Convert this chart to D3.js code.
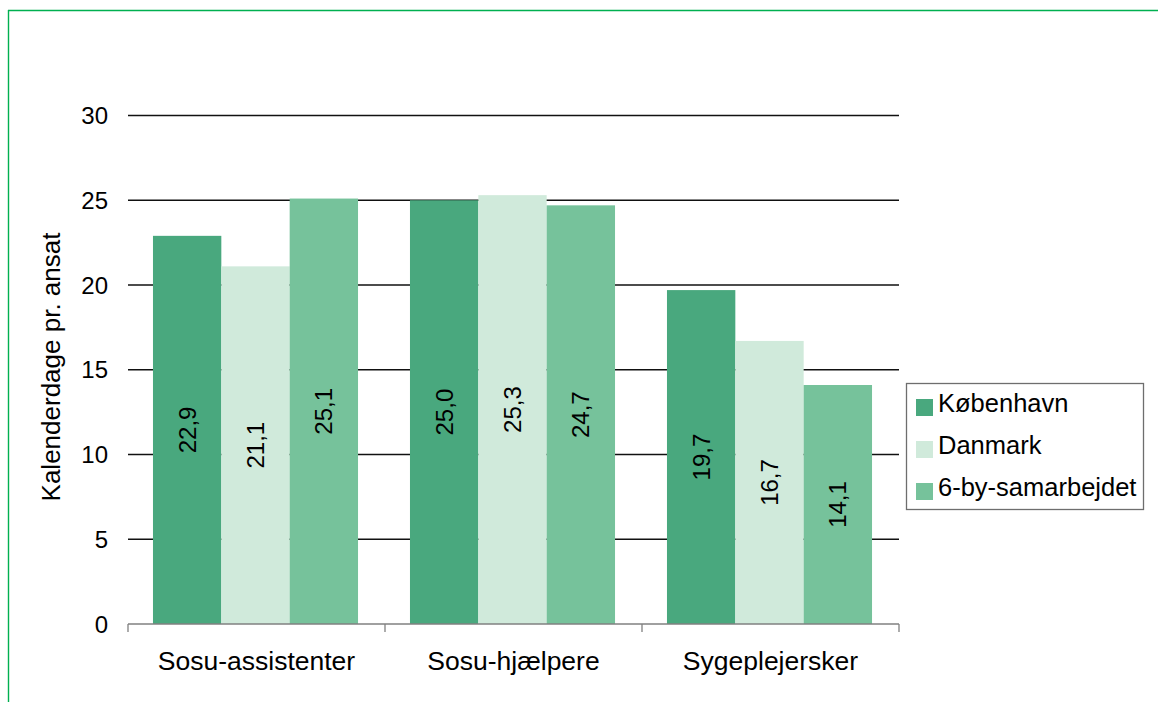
<!DOCTYPE html>
<html><head><meta charset="utf-8">
<script src="https://cdn.jsdelivr.net/npm/d3@7"></script>
<style>
html,body{margin:0;padding:0;background:#fff;}
svg{display:block;font-family:"Liberation Sans",Arial,sans-serif;}
</style></head>
<body>
<svg id="chart" width="1158" height="702"></svg>
<script>
const categories = ["Sosu-assistenter", "Sosu-hjælpere", "Sygeplejersker"];
const seriesNames = ["København", "Danmark", "6-by-samarbejdet"];
const kobenhavn = [22.9, 25.0, 19.7];
const danmark = [21.1, 25.3, 16.7];
const seksBy = [25.1, 24.7, 14.1];
const yTicks = [0, 5, 10, 15, 20, 25, 30];
const colors = ["#49a87e", "#d0eadb", "#76c29b"];
const yTitle = "Kalenderdage pr. ansat";

(function() {
const seriesValues = [kobenhavn, danmark, seksBy];
const svg = d3.select("#chart");

// frame border
svg.append("line").attr("x1", 8).attr("x2", 1158).attr("y1", 10.5).attr("y2", 10.5)
  .attr("stroke", "#00b050").attr("stroke-width", 1.4);
svg.append("line").attr("x1", 8.5).attr("x2", 8.5).attr("y1", 10).attr("y2", 702)
  .attr("stroke", "#00b050").attr("stroke-width", 1.4);

const pLeft = 128, pRight = 899, pTop = 115.5, pBottom = 624;
const y = d3.scaleLinear().domain([0, 30]).range([pBottom, pTop]);
const x0 = d3.scaleBand().domain(categories).range([pLeft, pRight]).padding(0);
const x1 = d3.scaleBand().domain(seriesNames).range([-1, x0.bandwidth() - 1]).paddingInner(0).paddingOuter(0.38);

const fmt = d3.formatLocale({decimal: ",", thousands: ".", grouping: [3], currency: ["", " kr"]}).format(".1f");

// gridlines
svg.append("g").selectAll("line").data(yTicks.filter(d => d > 0)).join("line")
  .attr("x1", pLeft).attr("x2", pRight)
  .attr("y1", d => y(d)).attr("y2", d => y(d))
  .attr("stroke", "#111").attr("stroke-width", 1.3);

// y tick labels
svg.append("g").selectAll("text").data(yTicks).join("text")
  .attr("x", 108).attr("y", d => y(d)).attr("dy", "0.36em")
  .attr("text-anchor", "end").attr("font-size", 24).attr("fill", "#000")
  .text(d => d);

// bars
const groups = svg.append("g").selectAll("g").data(categories).join("g")
  .attr("transform", d => `translate(${x0(d)},0)`);

groups.each(function(cat, ci) {
  const g = d3.select(this);
  seriesNames.forEach((s, si) => {
    const v = seriesValues[si][ci];
    g.append("rect")
      .attr("x", x1(s)).attr("width", x1.bandwidth())
      .attr("y", y(v)).attr("height", y(0) - y(v))
      .attr("fill", colors[si]);
    const cx = x1(s) + x1.bandwidth() / 2;
    const cy = (y(v) + y(0)) / 2;
    g.append("text")
      .attr("transform", `translate(${cx},${cy}) rotate(-90)`)
      .attr("text-anchor", "middle").attr("dy", "0.36em")
      .attr("font-size", 24).attr("fill", "#000")
      .text(fmt(v));
  });
});

// x axis
const xa = svg.append("g");
xa.append("line").attr("x1", pLeft).attr("x2", pRight).attr("y1", pBottom).attr("y2", pBottom)
  .attr("stroke", "#808080").attr("stroke-width", 1.3);
const tickXs = categories.map(c => x0(c)).concat([pRight]);
xa.selectAll("line.t").data(tickXs).join("line").attr("class", "t")
  .attr("x1", d => d).attr("x2", d => d).attr("y1", pBottom).attr("y2", pBottom + 8)
  .attr("stroke", "#808080").attr("stroke-width", 1.3);
xa.selectAll("text").data(categories).join("text")
  .attr("x", d => x0(d) + x0.bandwidth() / 2).attr("y", 670)
  .attr("text-anchor", "middle").attr("font-size", 26.5).attr("fill", "#000")
  .text(d => d);

// y title
svg.append("text")
  .attr("transform", `translate(60,367) rotate(-90)`)
  .attr("text-anchor", "middle").attr("font-size", 26).attr("fill", "#000")
  .text(yTitle);

// legend
const lg = svg.append("g");
lg.append("rect").attr("x", 906.5).attr("y", 383.5).attr("width", 237).attr("height", 126)
  .attr("fill", "#fff").attr("stroke", "#6e6e6e").attr("stroke-width", 1.3);
seriesNames.forEach((s, i) => {
  const ry = 399 + i * 42;
  lg.append("rect").attr("x", 916).attr("y", ry).attr("width", 17).attr("height", 17).attr("fill", colors[i]);
  lg.append("text").attr("x", 938).attr("y", ry + 13).attr("font-size", 25.5).attr("fill", "#000").text(s);
});
})();
</script>
</body></html>
